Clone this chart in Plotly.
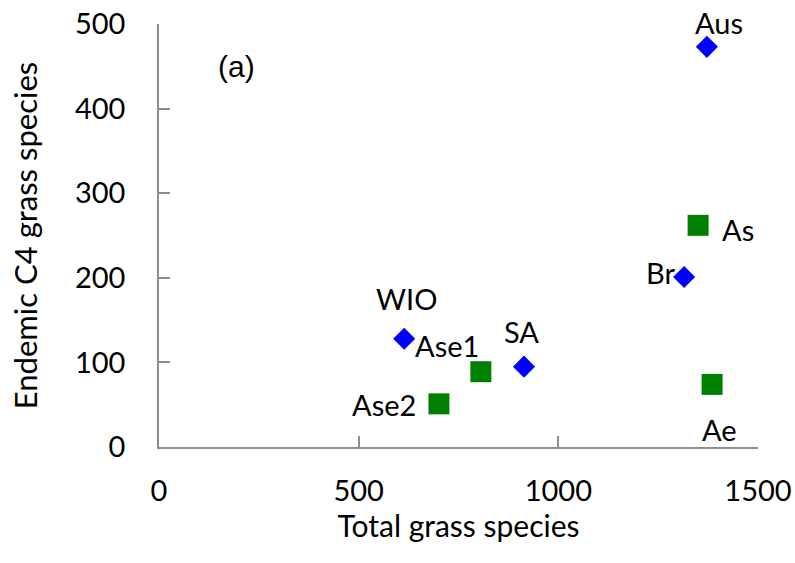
import plotly.graph_objects as go

# Diamond series (blue)
blue_names = ["Aus", "Br", "WIO", "SA"]
blue_total = [1372, 1315, 614, 914]
blue_endemic = [473, 201, 128, 95]

# Square series (green)
green_names = ["As", "Ae", "Ase1", "Ase2"]
green_total = [1350, 1385, 806, 701]
green_endemic = [262, 74, 89, 51]

x_ticks = [0, 500, 1000, 1500]
y_ticks = [0, 100, 200, 300, 400, 500]

# label offsets in pixels (style)
label_shift = {
    "Aus": (12, 24), "As": (40, -4), "Br": (-24, 4), "Ae": (7, -45),
    "WIO": (2, 40), "Ase1": (-34, 26), "SA": (-2, 35), "Ase2": (-55, -1),
}

FONT = "Lato"
L, R, T, B = 159, 758, 24, 447
fig = go.Figure()
fig.add_trace(go.Scatter(x=blue_total, y=blue_endemic, mode="markers",
                         marker=dict(symbol="diamond", size=17, color="#0000FF"),
                         showlegend=False))
fig.add_trace(go.Scatter(x=green_total, y=green_endemic, mode="markers",
                         marker=dict(symbol="square", size=21, color="#008000"),
                         showlegend=False))

for names, xs, ys in [(blue_names, blue_total, blue_endemic),
                      (green_names, green_total, green_endemic)]:
    for n, xv, yv in zip(names, xs, ys):
        dx, dy = label_shift[n]
        fig.add_annotation(x=xv, y=yv, text=n, showarrow=False,
                           xshift=dx, yshift=dy,
                           font=dict(family=FONT, size=29, color="black"))

fig.add_annotation(x=(236 - L) / (R - L), y=(B - 66) / (B - T), xref="paper", yref="paper",
                   text="(a)", showarrow=False, xanchor="center", yanchor="middle",
                   font=dict(family="Liberation Sans", size=30, color="black"))

axis_common = dict(showgrid=False, zeroline=False, showline=True, linecolor="#8c8c8c",
                   linewidth=1.5, ticks="inside", ticklen=11, tickcolor="#8c8c8c",
                   tickwidth=1.5, automargin=False,
                   tickfont=dict(family=FONT, size=29, color="black"))

fig.update_layout(
    width=795, height=563,
    margin=dict(l=L, r=795 - R, t=T, b=563 - B),
    plot_bgcolor="white", paper_bgcolor="white",
    xaxis=dict(range=[0, 1500], tickvals=x_ticks, ticklabelstandoff=17, **axis_common,
               title=dict(text="Total grass species", font=dict(family=FONT, size=30, color="black"),
                          standoff=5)),
    yaxis=dict(range=[0, 500], tickvals=y_ticks, ticklabelstandoff=26, **axis_common,
               title=dict(text="Endemic C4 grass species", font=dict(family=FONT, size=31, color="black"),
                          standoff=28)),
)
fig.write_html("out.html", config={"displayModeBar": False},
               post_script="document.body.style.margin='0';")
